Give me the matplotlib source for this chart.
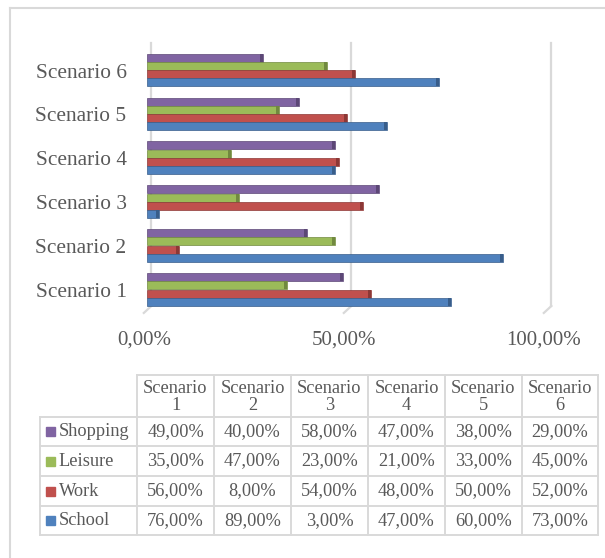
import matplotlib
matplotlib.use("Agg")
import matplotlib.pyplot as plt
from matplotlib.lines import Line2D
from matplotlib.patches import Rectangle
import numpy as np

plt.rcParams['font.family'] = ['Liberation Serif', 'DejaVu Serif']

# data
scenarios = ["Scenario 1", "Scenario 2", "Scenario 3", "Scenario 4", "Scenario 5", "Scenario 6"]
series = ["Shopping", "Leisure", "Work", "School"]
shopping = [49, 40, 58, 47, 38, 29]
leisure = [35, 47, 23, 21, 33, 45]
work = [56, 8, 54, 48, 50, 52]
school = [76, 89, 3, 47, 60, 73]
xticks = [0, 0.5, 1.0]
xtick_labels = ["0,00%", "50,00%", "100,00%"]

colors = {"Shopping": "#8064A2", "Leisure": "#9BBB59", "Work": "#C0504D", "School": "#4F81BD"}
darks = {"Shopping": "#5C4776", "Leisure": "#71893F", "Work": "#8C3836", "School": "#385D8A"}
values = {"Shopping": shopping, "Leisure": leisure, "Work": work, "School": school}

W, H = 605, 558
fig = plt.figure(figsize=(W / 100, H / 100), dpi=100)
txt = "#595959"
gridc = "#D9D9D9"


def fx(px):
    return px / W


def fy(py):
    return 1 - py / H


# outer frame (left and top only visible)
fig.add_artist(Line2D([fx(10), fx(10)], [fy(8), fy(560)], color=gridc, lw=1.5))
fig.add_artist(Line2D([fx(10), fx(610)], [fy(8), fy(8)], color=gridc, lw=1.5))

# bar chart axes: x 0..1 -> px 147..547, y groups 44 px apart
ax = fig.add_axes([fx(147), fy(315.8), 400 / W, 272.1 / H])
ax.set_xlim(0, 1)
ax.set_ylim(-0.6, 5.6)
ax.axis("off")

y = np.arange(len(scenarios))
bh = 0.1875
offsets = {"Shopping": 1.5 * bh, "Leisure": 0.5 * bh, "Work": -0.5 * bh, "School": -1.5 * bh}

# gridlines on the back wall with a floor foot
for v in xticks:
    ax.plot([v + 0.011, v + 0.011], [5.62, -0.376], color=gridc, lw=1.6, clip_on=False, zorder=1)
    ax.plot([v + 0.011, v - 0.008], [-0.376, -0.535], color=gridc, lw=1.6, clip_on=False, zorder=1)

for s in series:
    vals = np.array(values[s]) / 100
    ax.barh(y + offsets[s], vals, height=bh * 0.97, color=colors[s],
            edgecolor=darks[s], linewidth=0.5, zorder=3)
    # darker end cap for the 3D look
    ax.barh(y + offsets[s], np.full(len(vals), 0.007), left=vals - 0.007,
            height=bh * 0.97, color=darks[s], linewidth=0, zorder=4)

for i, lab in enumerate(scenarios):
    ax.text(-0.051, y[i] - 0.07, lab, ha="right", va="center", fontsize=15.4, color=txt)

for v, lab in zip(xticks, xtick_labels):
    ax.text(v - 0.008, -1.15, lab, ha="center", va="center", fontsize=15, color=txt)

# data table
cols = [40, 137, 214, 291, 368, 445, 522, 598]
rows = [375, 417, 446, 476, 506, 535]
lw = 1.4
# horizontal lines
fig.add_artist(Line2D([fx(cols[1]), fx(cols[-1])], [fy(rows[0])] * 2, color=gridc, lw=lw))
for r in rows[1:]:
    fig.add_artist(Line2D([fx(cols[0]), fx(cols[-1])], [fy(r)] * 2, color=gridc, lw=lw))
# vertical lines
fig.add_artist(Line2D([fx(cols[0])] * 2, [fy(rows[1]), fy(rows[-1])], color=gridc, lw=lw))
for c in cols[1:]:
    fig.add_artist(Line2D([fx(c)] * 2, [fy(rows[0]), fy(rows[-1])], color=gridc, lw=lw))

# header
for j, lab in enumerate(scenarios):
    cx = (cols[j + 1] + cols[j + 2]) / 2
    cy = (rows[0] + rows[1]) / 2 + 1
    fig.text(fx(cx), fy(cy), lab.replace(" ", "\n"), ha="center", va="center",
             fontsize=13.2, color=txt, linespacing=1.05)

# body
for i, s in enumerate(series):
    cy = (rows[i + 1] + rows[i + 2]) / 2
    fig.add_artist(Rectangle((fx(46), fy(cy + 4.5)), 9 / W, 9 / H, color=colors[s],
                             transform=fig.transFigure))
    fig.text(fx(58.5), fy(cy), s, ha="left", va="center", fontsize=13.2, color=txt)
    for j, v in enumerate(values[s]):
        cx = (cols[j + 1] + cols[j + 2]) / 2
        fig.text(fx(cx), fy(cy), f"{v:.2f}%".replace(".", ","), ha="center", va="center",
                 fontsize=13.2, color=txt)

fig.savefig("out.png", dpi=100)
